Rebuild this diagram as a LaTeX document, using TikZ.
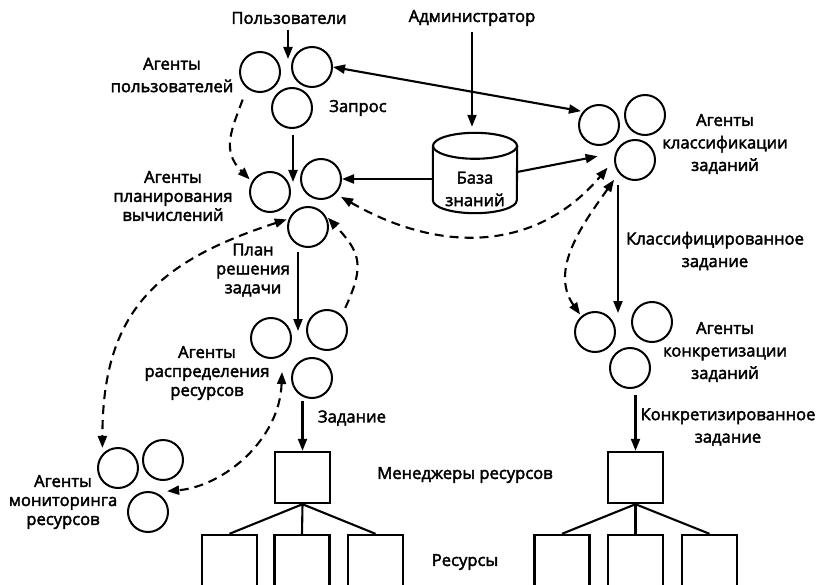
\documentclass[tikz,border=0pt]{standalone}
\usepackage{fontspec}
\setmainfont{Open Sans}
\newfontfamily\lblfont{Open Sans}[FakeBold=2.5]
\usetikzlibrary{arrows.meta}
\begin{document}
\begin{tikzpicture}[x=1pt,y=-1pt,
  font=\lblfont\fontsize{16.6}{19}\selectfont,
  >={Triangle[length=12pt,width=9pt]},
  agent/.style={circle,draw,line width=2pt,minimum size=40pt,inner sep=0pt},
  mgrbox/.style={rectangle,draw,line width=2.4pt,minimum width=55pt,minimum height=51pt,inner sep=0pt},
  resbox/.style={rectangle,draw,line width=2.4pt,minimum width=55pt,minimum height=90pt,inner sep=0pt},
  lbl/.style={align=center,inner sep=1pt},
  lblw/.style={lbl,font=\lblfont\fontsize{16.6}{22.5}\selectfont},
  conn/.style={line width=2.1pt},
  dconn/.style={line width=2.1pt,dash pattern=on 9pt off 6pt}
]
\useasboundingbox (0,0) rectangle (818,585);
\clip (0,0) rectangle (818,585);

% agent groups
\node[agent] (u1) at (260,72) {};
\node[agent] (u2) at (312,67) {};
\node[agent] (u3) at (292,108) {};
\node[agent] (p1) at (270,192) {};
\node[agent] (p2) at (321,179) {};
\node[agent] (p3) at (308,227) {};
\node[agent] (d1) at (271,338) {};
\node[agent] (d2) at (327,330) {};
\node[agent] (d3) at (312,378) {};
\node[agent] (m1) at (118,468) {};
\node[agent] (m2) at (163,460) {};
\node[agent] (m3) at (148,512) {};
\node[agent] (c1) at (599,125) {};
\node[agent] (c2) at (645,115) {};
\node[agent] (c3) at (635,160) {};
\node[agent] (k1) at (595,332) {};
\node[agent] (k2) at (652,322) {};
\node[agent] (k3) at (630,368) {};

% managers and resources
\node[mgrbox] (mgr1) at (302.5,477.5) {};
\node[mgrbox] (mgr2) at (635.5,477.5) {};
\node[resbox] (r1) at (229.5,580) {};
\node[resbox] (r2) at (302,580) {};
\node[resbox] (r3) at (375.5,580) {};
\node[resbox] (r4) at (562,580) {};
\node[resbox] (r5) at (635.5,580) {};
\node[resbox] (r6) at (709.5,580) {};

% knowledge base
\node[minimum width=84pt,minimum height=80pt,inner sep=0pt] (db) at (475,173) {};
\draw[conn] ([yshift=-13pt]db.north) ellipse [x radius=42pt, y radius=13pt];
\draw[conn] ([yshift=-13pt]db.north west) -- ([yshift=13pt]db.south west)
  arc[start angle=180, end angle=360, x radius=42pt, y radius=13pt]
  -- ([yshift=-13pt]db.north east);
\node[lblw] (dbtext) at ([yshift=-16pt]db.center) {База\\знаний};

% labels
\node[lbl] (users) at (289,18) {Пользователи};
\node[lbl] (admin) at (472,18) {Администратор};
\node[lblw] (tu) at (172,75) {Агенты\\пользователей};
\node[lbl] (tq) at (358,108) {Запрос};
\node[lbl] (tp) at (173,196) {Агенты\\планирования\\вычислений};
\node[lbl] (tplan) at (253,270) {План\\решения\\задачи};
\node[lbl] (td) at (207,373) {Агенты\\распределения\\ресурсов};
\node[lbl] (tz) at (352,418) {Задание};
\node[lbl] (tm) at (63,502) {Агенты\\мониторинга\\ресурсов};
\node[lblw] (tc) at (725,144) {Агенты\\классификации\\заданий};
\node[lblw] (tcz) at (715,251) {Классифицированное\\задание};
\node[lblw] (tk) at (725,352) {Агенты\\конкретизации\\заданий};
\node[lblw] (tkz) at (728,427) {Конкретизированное\\задание};
\node[lbl] (tmgr) at (465,475) {Менеджеры ресурсов};
\node[lbl] (tres) at (465,562) {Ресурсы};

% join points between agents of a group
\coordinate (ujoin) at (288,59);
\coordinate (pjoin) at (293,182);
\coordinate (djoin) at (298,331);
\coordinate (kjoin) at (618,313);

% solid connectors
\draw[conn,->,shorten <=5pt] (users.south -| ujoin) -- (ujoin);
\draw[conn,->,shorten <=6pt] (u3.south -| pjoin) -- (pjoin);
\draw[conn,<->,shorten >=2pt] (u2.east) -- (c1.140);
\draw[conn,->,shorten <=5pt,shorten >=6pt] (admin.south) -- (admin.south |- db.north);
\draw[conn,->] ([yshift=-6pt]db.west) -- (p2.east);
\draw[conn,->,shorten >=18pt] ([yshift=1pt]db.east) -- (c3.160);
\draw[conn,->,shorten <=4pt] (c3.south -| kjoin) -- (kjoin);
\draw[conn,->,shorten <=4pt] (p3.south -| djoin) -- (djoin);
\draw[conn,->,shorten <=2pt] (d3.south -| mgr1.north) -- (mgr1.north);
\draw[conn,->,shorten <=6pt] (k3.south -| mgr2.north) -- (mgr2.north);
\foreach \m/\r in {mgr1/r1,mgr1/r2,mgr1/r3,mgr2/r4,mgr2/r5,mgr2/r6}
  \draw[conn] (\m.south) -- (\r.north);

% dashed connectors
\draw[dconn,->,shorten <=12pt,shorten >=3pt] (u1.231) to[out=250,in=135,looseness=1.2] (p1.150);
\draw[dconn,<->,shorten <=2pt,shorten >=6pt] (p3.157) to[out=198,in=90,looseness=1.2] (m1.138);
\draw[dconn,->,shorten <=8pt,shorten >=9pt] (d2.45) to[out=65,in=-47,looseness=1.35] (p3.49);
\draw[dconn,<->,shorten >=12pt] ([xshift=-9pt,yshift=6pt]d3.west) to[out=268,in=5] (m3.70);
\draw[dconn,<->,shorten <=6pt,shorten >=10pt] (p2.-45) to[out=-30,in=230,looseness=1.1] (c3.180);
\draw[dconn,<->,shorten <=8pt,shorten >=2pt] (c3.219) to[out=235,in=125] (k1.131);
\end{tikzpicture}
\end{document}
